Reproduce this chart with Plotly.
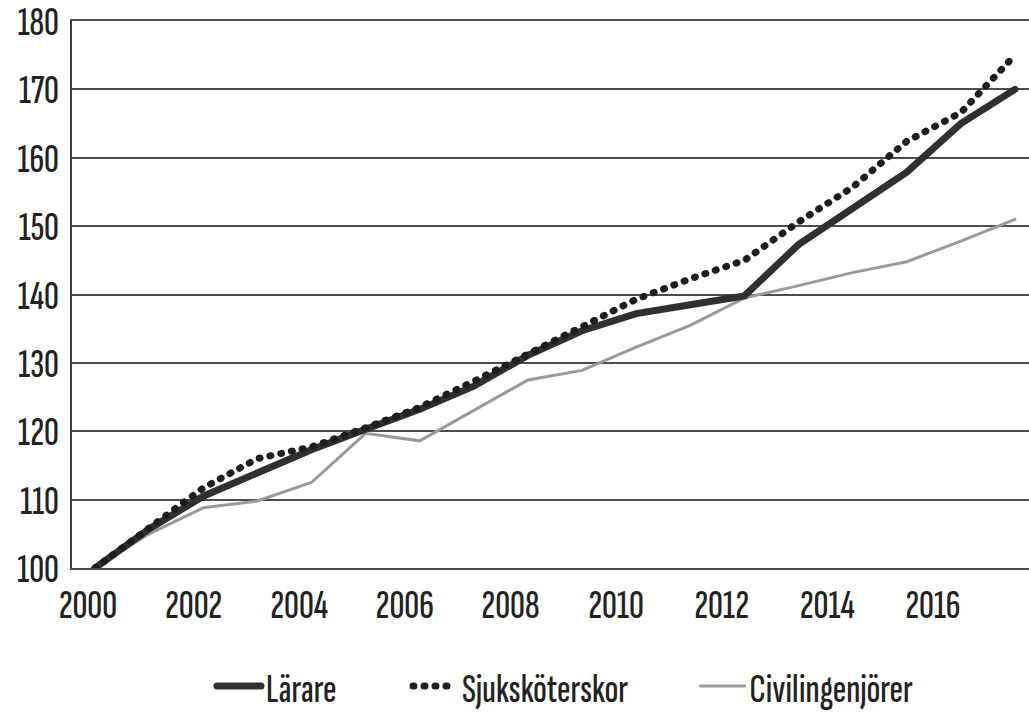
import plotly.graph_objects as go

years = list(range(2000, 2018))
tick_years = [2000, 2002, 2004, 2006, 2008, 2010, 2012, 2014, 2016]
y_ticks = [100, 110, 120, 130, 140, 150, 160, 170, 180]

larare = [100, 105.7, 110.5, 114, 117.3, 120.3, 123.2, 126.6, 131.1, 134.7,
          137.2, 138.5, 139.8, 147.3, 152.6, 157.9, 165.0, 170.0]
sjukskoterskor = [100, 105.8, 111.7, 116.0, 117.7, 120.5, 123.5, 127.3, 131.3, 135.3,
                  139.3, 142.3, 145.0, 150.6, 155.7, 162.4, 166.6, 175.0]
civilingenjorer = [100, 105.0, 108.8, 109.8, 112.5, 119.7, 118.6, 123.0, 127.5, 128.9,
                   132.3, 135.5, 139.5, 141.3, 143.2, 144.8, 147.8, 151.0]

FONT = "Sofia Sans Extra Condensed, Fira Sans Extra Condensed, PT Sans Narrow, DejaVu Sans Condensed, Roboto, sans-serif"
INK = "#222222"
GRID = "#4d4d4d"
TICKFONT = dict(size=40, family=FONT, color=INK, weight=500)
LEGFONT = dict(size=40, family=FONT, color=INK, weight=500)

fig = go.Figure()
fig.add_trace(go.Scatter(x=years, y=civilingenjorer, name="Civilingenjörer", mode="lines",
                         line=dict(color="#9a9a9a", width=3), legend="legend3"))
fig.add_trace(go.Scatter(x=years, y=larare, name="Lärare", mode="lines",
                         line=dict(color="#303030", width=7), legend="legend"))
fig.add_trace(go.Scatter(x=years, y=sjukskoterskor, name="Sjuksköterskor", mode="lines",
                         line=dict(color="#1e1e1e", width=7, dash="1px,10px"), legend="legend2"))
# invisible trace that carries the label axis
fig.add_trace(go.Scatter(x=[tick_years[0]], y=[y_ticks[0]], xaxis="x2", mode="markers",
                         marker=dict(opacity=0), showlegend=False, hoverinfo="skip"))

leg_common = dict(orientation="h", xref="container", yref="container", y=0.042,
                  yanchor="middle", xanchor="left", font=LEGFONT, bgcolor="rgba(0,0,0,0)",
                  itemwidth=44)

fig.update_layout(
    width=1029, height=716,
    margin=dict(l=72, r=0, t=21, b=148, autoexpand=False),
    paper_bgcolor="white", plot_bgcolor="white",
    font=dict(family=FONT, color=INK, size=30),
    showlegend=True,
    legend=dict(x=0.206, **leg_common),
    legend2=dict(x=0.3965, **leg_common),
    legend3=dict(x=0.676, **leg_common),
    xaxis=dict(range=[1999.575, 2017.259], showticklabels=False, showgrid=False,
               zeroline=False, showline=False, ticks="", automargin=False),
    xaxis2=dict(overlaying="x", side="bottom", range=[1999.697, 2017.818],
                tickmode="array", tickvals=tick_years, ticktext=[str(t) for t in tick_years],
                showgrid=False, zeroline=False, showline=True, mirror=True,
                linecolor=GRID, linewidth=2, ticks="", ticklabelstandoff=0,
                tickfont=TICKFONT, automargin=False, ticklabeloverflow="allow"),
    yaxis=dict(range=[100, 180], tickmode="array", tickvals=y_ticks,
               showgrid=True, gridcolor=GRID, gridwidth=2, zeroline=False,
               showline=True, linecolor="#3a3a3a", linewidth=2, ticks="",
               ticklabelstandoff=3, tickfont=TICKFONT, automargin=False,
               ticklabeloverflow="allow"),
)

post = """
var s=document.createElement('style');
s.textContent='html,body{margin:0;padding:0;} path.js-line{stroke-linecap:round !important;}';
document.head.appendChild(s);
"""
fig.write_html("out.html", post_script=post, config={"displayModeBar": False})
